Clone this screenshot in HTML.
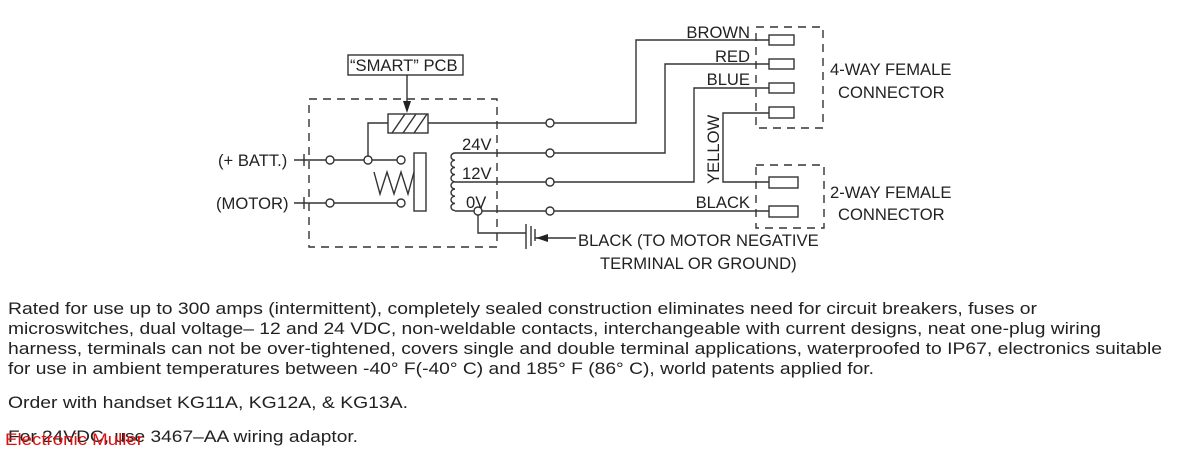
<!DOCTYPE html>
<html><head><meta charset="utf-8"><style>
html,body{margin:0;padding:0;background:#fff;}
svg{display:block;}
text{font-family:"Liberation Sans",sans-serif;fill:#222;}
</style></head><body>
<svg width="1182" height="454" viewBox="0 0 1182 454" xmlns="http://www.w3.org/2000/svg">
<g stroke="#333" stroke-width="1.4" fill="none">
<rect x="348" y="55" width="115" height="20" fill="#fff"/>
<line x1="407" y1="75" x2="407" y2="104"/>
<rect x="309" y="99" width="188" height="148" stroke-dasharray="8,6"/>
<rect x="388" y="114" width="40" height="19" fill="#fff"/>
<line x1="392" y1="133" x2="405" y2="114"/><line x1="403" y1="133" x2="416" y2="114"/><line x1="414" y1="133" x2="427" y2="114"/>
<line x1="428" y1="123" x2="546" y2="123"/>
<polyline points="388,123 368,123 368,156"/>
<line x1="294" y1="160" x2="326" y2="160"/>
<line x1="304" y1="154" x2="304" y2="166"/>
<line x1="334" y1="160" x2="364" y2="160"/>
<line x1="372" y1="160" x2="397" y2="160"/>
<circle cx="330" cy="160" r="4" fill="#fff"/><circle cx="368" cy="160" r="4" fill="#fff"/><circle cx="401" cy="160" r="4" fill="#fff"/>
<rect x="414" y="153" width="12" height="58" fill="#fff"/>
<polyline points="414,172 408,194 401,172 394,194 387,172 380,194 374,172"/>
<line x1="294" y1="203" x2="326" y2="203"/>
<line x1="304" y1="197" x2="304" y2="209"/>
<line x1="334" y1="203" x2="397" y2="203"/>
<circle cx="330" cy="203" r="4" fill="#fff"/><circle cx="401" cy="203" r="4" fill="#fff"/>
<path d="M455,153 a4,3.6 0 0 0 0,7.2 a4,3.6 0 0 0 0,7.2 a4,3.6 0 0 0 0,7.2 a4,3.6 0 0 0 0,7.2 a4,3.6 0 0 0 0,7.2 a4,3.6 0 0 0 0,7.2 a4,3.6 0 0 0 0,7.2 a4,3.6 0 0 0 0,7.2"/>
<line x1="455" y1="153" x2="546" y2="153"/>
<line x1="455" y1="182" x2="546" y2="182"/>
<line x1="455" y1="211" x2="474" y2="211"/>
<line x1="482" y1="211" x2="546" y2="211"/>
<circle cx="478" cy="211" r="4" fill="#fff"/>
<polyline points="478,215 478,233 526,233"/>
<line x1="526" y1="224" x2="526" y2="249"/>
<line x1="531" y1="226" x2="531" y2="246"/>
<line x1="535" y1="229" x2="535" y2="241"/>
<line x1="535" y1="238" x2="576" y2="238"/>
<circle cx="550" cy="123" r="4" fill="#fff"/><circle cx="550" cy="153" r="4" fill="#fff"/><circle cx="550" cy="182" r="4" fill="#fff"/><circle cx="550" cy="211" r="4" fill="#fff"/>
<polyline points="554,123 636,123 636,40 769,40"/>
<polyline points="554,153 665,153 665,64 769,64"/>
<polyline points="554,182 694,182 694,88 769,88"/>
<polyline points="769,113 723,113 723,182 769,182"/>
<line x1="554" y1="211" x2="769" y2="211"/>
<rect x="756" y="27" width="67" height="101" stroke-dasharray="8,6"/>
<rect x="756" y="165" width="68" height="63" stroke-dasharray="8,6"/>
<rect x="769" y="35" width="25" height="10" fill="#fff"/>
<rect x="769" y="59" width="25" height="10" fill="#fff"/>
<rect x="769" y="83" width="25" height="10" fill="#fff"/>
<rect x="769" y="107" width="25" height="11" fill="#fff"/>
<rect x="769" y="177" width="29" height="11" fill="#fff"/>
<rect x="769" y="206" width="29" height="11" fill="#fff"/>
</g>
<polygon points="403,101 411,101 407,113" fill="#222"/>
<polygon points="536,238 548,234 548,242" fill="#222"/>
<g font-size="16.6">
<text x="350" y="71">“SMART” PCB</text>
<text x="218" y="166">(+ BATT.)</text>
<text x="216" y="209">(MOTOR)</text>
<text x="462" y="150">24V</text>
<text x="462" y="179">12V</text>
<text x="466" y="208">0V</text>
<text x="750" y="38" text-anchor="end">BROWN</text>
<text x="750" y="62" text-anchor="end">RED</text>
<text x="750" y="85" text-anchor="end">BLUE</text>
<text x="750" y="208" text-anchor="end">BLACK</text>
<text x="719" y="184" transform="rotate(-90 719 184)">YELLOW</text>
<text x="830" y="75">4-WAY FEMALE</text>
<text x="838" y="98">CONNECTOR</text>
<text x="830" y="198">2-WAY FEMALE</text>
<text x="838" y="220">CONNECTOR</text>
<text x="578" y="246">BLACK (TO MOTOR NEGATIVE</text>
<text x="600" y="269">TERMINAL OR GROUND)</text>
</g>
<g font-size="17">
<text x="8" y="314" textLength="1029" lengthAdjust="spacingAndGlyphs">Rated for use up to 300 amps (intermittent), completely sealed construction eliminates need for circuit breakers, fuses or</text>
<text x="8" y="334" textLength="1093" lengthAdjust="spacingAndGlyphs">microswitches, dual voltage– 12 and 24 VDC, non-weldable contacts, interchangeable with current designs, neat one-plug wiring</text>
<text x="8" y="354" textLength="1154" lengthAdjust="spacingAndGlyphs">harness, terminals can not be over-tightened, covers single and double terminal applications, waterproofed to IP67, electronics suitable</text>
<text x="8" y="374" textLength="866" lengthAdjust="spacingAndGlyphs">for use in ambient temperatures between -40° F(-40° C) and 185° F (86° C), world patents applied for.</text>
<text x="8" y="408" textLength="400" lengthAdjust="spacingAndGlyphs">Order with handset KG11A, KG12A, &amp; KG13A.</text>
<text x="8" y="442" textLength="350" lengthAdjust="spacingAndGlyphs">For 24VDC, use 3467–AA wiring adaptor.</text>
</g>
<text x="5" y="445" font-size="17" style="fill:#e01010" textLength="138" lengthAdjust="spacingAndGlyphs">Electronic Muller</text>
</svg>
</body></html>
